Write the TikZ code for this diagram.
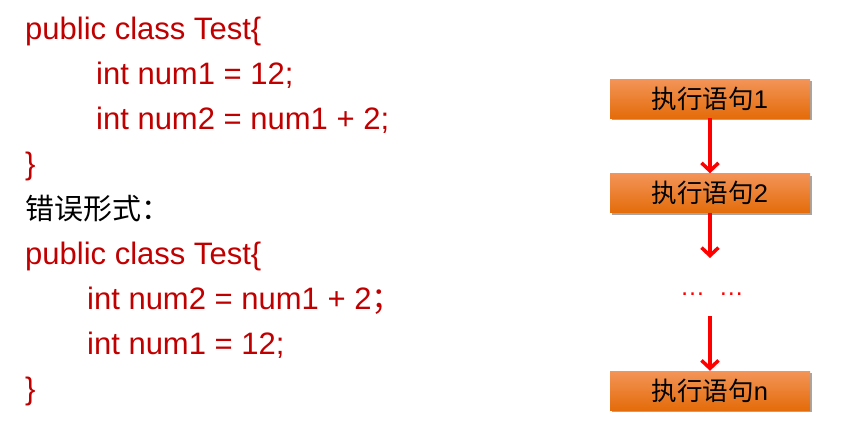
\documentclass[tikz,border=0pt]{standalone}
\usepackage{fontspec}
\setmainfont{Liberation Sans}
\newfontfamily\cjk{Noto Sans CJK SC}
\usetikzlibrary{arrows.meta,shadows}
\definecolor{codered}{HTML}{C00000}
\definecolor{orTop}{HTML}{F39458}
\definecolor{orBot}{HTML}{E46C0A}
\begin{document}
\begin{tikzpicture}[x=1pt,y=-1pt,
  code/.style={anchor=base west,inner sep=0pt,text=codered,font=\fontsize{31}{36}\selectfont},
  cnote/.style={anchor=base west,inner sep=0pt,text=black,font=\cjk\fontsize{29}{34}\selectfont},
  stepbox/.style={minimum width=200pt,minimum height=39pt,inner sep=0pt,
    top color=orTop,bottom color=orBot,draw=none,
    drop shadow={shadow xshift=2pt,shadow yshift=-2pt,fill=black,opacity=0.35},
    font=\fontsize{25.5}{30}\selectfont,text=black},
  flow/.style={draw=red,line width=3.5pt,-{Straight Barb[length=8pt,width=17pt,line width=3.5pt]}}]
\useasboundingbox (0,0) rectangle (844,429);
\node[code] (l1) at (25,39) {public class Test\{};
\node[code] (l2) at (96,84) {int num1 = 12;};
\node[code] (l3) at (96,129) {int num2 = num1 + 2;};
\node[code] (l4) at (25,174) {\}};
\node[cnote] (l5) at (25,219) {错误形式：};
\node[code] (l6) at (25,264) {public class Test\{};
\node[code] (l7) at (87,309) {int num2 = num1 + 2{\cjk ；}};
\node[code] (l8) at (87,354) {int num1 = 12;};
\node[code] (l9) at (25,399) {\}};
\node[stepbox] (s1) at (710,98.5) {{\cjk 执行语句}1};
\node[stepbox] (s2) at (710,193) {{\cjk 执行语句}2};
\node[stepbox] (sn) at (710,390.5) {{\cjk 执行语句}n};
\node[anchor=base,inner sep=0pt,text=red,font=\fontsize{25}{28}\selectfont] (dots) at (712,295) {\ldots\ \ \ldots};
\coordinate (a2end) at (710,258);
\coordinate (a3start) at (710,316);
\draw[flow] (s1.south) -- (s2.north);
\draw[flow] (s2.south) -- (a2end);
\draw[flow] (a3start) -- (sn.north);
\end{tikzpicture}
\end{document}
